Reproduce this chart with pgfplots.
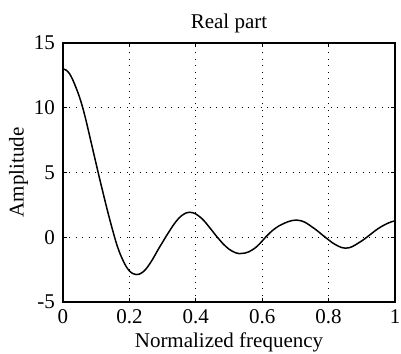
\documentclass[border=0pt]{standalone}
\usepackage{fontspec}
\setmainfont{Liberation Serif}
\usepackage{pgfplots}
\pgfplotsset{compat=1.18}
\begin{document}
\fontsize{20.5bp}{24bp}\selectfont
\begin{tikzpicture}
\begin{axis}[
  scale only axis,
  width=332bp, height=259bp,
  xmin=0, xmax=1, ymin=-5, ymax=15,
  xtick={0,0.2,0.4,0.6,0.8,1},
  xticklabels={0,0.2,0.4,0.6,0.8,1},
  ytick={-5,0,5,10,15},
  /pgf/number format/assume math mode=true,
  tick label style={font=\fontsize{21bp}{24bp}\selectfont},
  label style={font=\fontsize{21bp}{24bp}\selectfont},
  title style={font=\fontsize{21bp}{24bp}\selectfont},
  grid=major,
  major grid style={black, line width=0.9pt, dash pattern=on 0.9pt off 5.5pt},
  axis line style={black, line width=1.3pt},
  tick align=inside,
  major tick length=4bp,
  tick style={black, line width=0.8pt},
  xticklabel style={yshift=-1bp},
  yticklabel style={xshift=-1bp},
  title={Real part},
  xlabel={Normalized frequency},
  ylabel={Amplitude},
  xlabel style={yshift=5bp},
  ylabel style={yshift=-8bp},
  title style={yshift=-3bp},
]
\addplot[black, line width=1.5pt, smooth] coordinates {
(0.00,13.0) (0.01,12.9) (0.02,12.62) (0.03,12.12) (0.04,11.5) (0.05,10.8)
(0.06,9.95) (0.07,8.95) (0.08,7.85) (0.09,6.75) (0.10,5.65) (0.11,4.55)
(0.12,3.5) (0.13,2.45) (0.14,1.45) (0.15,0.5) (0.16,-0.4) (0.17,-1.15)
(0.18,-1.75) (0.19,-2.25) (0.20,-2.6) (0.21,-2.8) (0.22,-2.88) (0.23,-2.85)
(0.24,-2.7) (0.25,-2.45) (0.26,-2.1) (0.27,-1.7) (0.28,-1.25) (0.29,-0.8)
(0.30,-0.38) (0.31,0.05) (0.32,0.45) (0.33,0.85) (0.34,1.2) (0.35,1.5)
(0.36,1.72) (0.37,1.87) (0.38,1.93) (0.39,1.9) (0.40,1.8) (0.41,1.62)
(0.42,1.4) (0.43,1.12) (0.44,0.8) (0.45,0.48) (0.46,0.15) (0.47,-0.15)
(0.48,-0.45) (0.49,-0.7) (0.50,-0.92) (0.51,-1.08) (0.52,-1.2) (0.53,-1.26)
(0.54,-1.25) (0.55,-1.21) (0.56,-1.12) (0.57,-0.98) (0.58,-0.8) (0.59,-0.56)
(0.60,-0.29) (0.61,0.0) (0.62,0.26) (0.63,0.5) (0.64,0.7) (0.65,0.87)
(0.66,1.0) (0.67,1.12) (0.68,1.22) (0.69,1.29) (0.70,1.32) (0.71,1.31)
(0.72,1.25) (0.73,1.14) (0.74,0.98) (0.75,0.8) (0.76,0.62) (0.77,0.42)
(0.78,0.2) (0.79,0.0) (0.80,-0.2) (0.81,-0.4) (0.82,-0.56) (0.83,-0.7)
(0.84,-0.8) (0.85,-0.84) (0.86,-0.82) (0.87,-0.74) (0.88,-0.6) (0.89,-0.44)
(0.90,-0.28) (0.91,-0.1) (0.92,0.1) (0.93,0.3) (0.94,0.5) (0.95,0.68)
(0.96,0.84) (0.97,0.98) (0.98,1.1) (0.99,1.2) (1.00,1.26)
};
\end{axis}
\pgfresetboundingbox
\path[use as bounding box] ([xshift=-63bp,yshift=-52bp]current axis.south west) rectangle ([xshift=6bp,yshift=43bp]current axis.north east);
\end{tikzpicture}
\end{document}
